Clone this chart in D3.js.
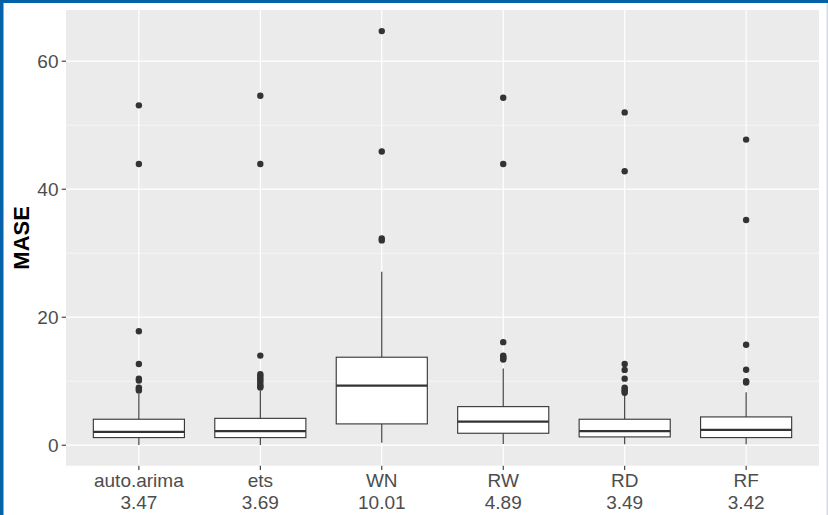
<!DOCTYPE html>
<html>
<head>
<meta charset="utf-8">
<script src="https://cdn.jsdelivr.net/npm/d3@7"></script>
<style>
  html, body { margin: 0; padding: 0; background: #fff; }
  svg { display: block; }
</style>
</head>
<body>
<svg id="chart" width="828" height="515"></svg>
<script>
// categories and the mean MASE shown under each name
var methods = ["auto.arima", "ets", "WN", "RW", "RD", "RF"];
var meanLabels = ["3.47", "3.69", "10.01", "4.89", "3.49", "3.42"];

// box summaries
var whiskerLow  = [0.05, 0.05, 0.4, 0.2, 0.15, 0.15];
var q1          = [1.19, 1.19, 3.33, 1.87, 1.3, 1.19];
var medians     = [2.1, 2.19, 9.3, 3.69, 2.19, 2.39];
var q3          = [4.06, 4.2, 13.75, 6.03, 4.06, 4.42];
var whiskerHigh = [8.0, 8.5, 27.1, 12.0, 7.9, 8.28];

var outliers = [
    [53.1, 43.95, 17.8, 12.7, 10.4, 10.1, 9.0, 8.8, 8.55],
    [54.6, 43.95, 14.0, 11.1, 10.8, 10.5, 10.2, 9.9, 9.5, 9.2, 9.0],
    [64.7, 45.9, 32.3, 32.0],
    [54.3, 43.95, 16.1, 14.0, 13.8, 13.6, 13.4],
    [52.0, 42.8, 12.7, 11.77, 10.4, 9.0, 8.7, 8.45, 8.2],
    [47.75, 35.2, 15.7, 11.8, 10.0, 9.8]
];

var yTicks = [0, 20, 40, 60];
var yMinor = [10, 30, 50];

var svg = d3.select("#chart");

// page frame
svg.append("rect").attr("x", 0).attr("y", 0).attr("width", 828).attr("height", 515).attr("fill", "#fff");
svg.append("rect").attr("x", 0).attr("y", 0).attr("width", 828).attr("height", 3).attr("fill", "#0562A9");
svg.append("rect").attr("x", 0).attr("y", 0).attr("width", 3.5).attr("height", 515).attr("fill", "#0562A9");
svg.append("rect").attr("x", 826.5).attr("y", 3).attr("width", 1.5).attr("height", 512).attr("fill", "#d5dbe2");

var panel = {left: 66, top: 10, right: 819, bottom: 465.7};

var x = d3.scalePoint()
    .domain(methods)
    .range([panel.left, panel.right])
    .padding(0.6);

var y = d3.scaleLinear()
    .domain([-3.2, 68.0])
    .range([panel.bottom, panel.top]);

var boxWidth = x.step() * 0.75;

var g = svg.append("g");

g.append("rect")
    .attr("x", panel.left)
    .attr("y", panel.top)
    .attr("width", panel.right - panel.left)
    .attr("height", panel.bottom - panel.top)
    .attr("fill", "#EBEBEB");

// grid
g.selectAll(".minor").data(yMinor).enter().append("line")
    .attr("x1", panel.left).attr("x2", panel.right)
    .attr("y1", function(d) { return y(d); }).attr("y2", function(d) { return y(d); })
    .attr("stroke", "#fff").attr("stroke-width", 0.6);

g.selectAll(".major").data(yTicks).enter().append("line")
    .attr("x1", panel.left).attr("x2", panel.right)
    .attr("y1", function(d) { return y(d); }).attr("y2", function(d) { return y(d); })
    .attr("stroke", "#fff").attr("stroke-width", 1.2);

g.selectAll(".vgrid").data(methods).enter().append("line")
    .attr("x1", function(d) { return x(d); }).attr("x2", function(d) { return x(d); })
    .attr("y1", panel.top).attr("y2", panel.bottom)
    .attr("stroke", "#fff").attr("stroke-width", 1.2);

// boxes
var boxes = g.selectAll(".box").data(methods).enter().append("g");

boxes.append("line")
    .attr("x1", function(d) { return x(d); }).attr("x2", function(d) { return x(d); })
    .attr("y1", function(d, i) { return y(q3[i]); })
    .attr("y2", function(d, i) { return y(whiskerHigh[i]); })
    .attr("stroke", "#333").attr("stroke-width", 1.1);

boxes.append("line")
    .attr("x1", function(d) { return x(d); }).attr("x2", function(d) { return x(d); })
    .attr("y1", function(d, i) { return y(q1[i]); })
    .attr("y2", function(d, i) { return y(whiskerLow[i]); })
    .attr("stroke", "#333").attr("stroke-width", 1.1);

boxes.append("rect")
    .attr("x", function(d) { return x(d) - boxWidth / 2; })
    .attr("width", boxWidth)
    .attr("y", function(d, i) { return y(q3[i]); })
    .attr("height", function(d, i) { return y(q1[i]) - y(q3[i]); })
    .attr("fill", "#fff").attr("stroke", "#333").attr("stroke-width", 1.1);

boxes.append("line")
    .attr("x1", function(d) { return x(d) - boxWidth / 2; })
    .attr("x2", function(d) { return x(d) + boxWidth / 2; })
    .attr("y1", function(d, i) { return y(medians[i]); })
    .attr("y2", function(d, i) { return y(medians[i]); })
    .attr("stroke", "#333").attr("stroke-width", 2.2);

boxes.each(function(d, i) {
    d3.select(this).selectAll("circle").data(outliers[i]).enter().append("circle")
        .attr("cx", x(d))
        .attr("cy", function(v) { return y(v); })
        .attr("r", 3.2)
        .attr("fill", "#333");
});

// y axis
var yAxis = svg.append("g");
yAxis.selectAll("line").data(yTicks).enter().append("line")
    .attr("x1", panel.left - 4.3).attr("x2", panel.left)
    .attr("y1", function(d) { return y(d); }).attr("y2", function(d) { return y(d); })
    .attr("stroke", "#333").attr("stroke-width", 1.1);
yAxis.selectAll("text").data(yTicks).enter().append("text")
    .attr("x", panel.left - 7.5)
    .attr("y", function(d) { return y(d) + 6.8; })
    .attr("text-anchor", "end")
    .attr("font-family", "Liberation Sans, Arial, sans-serif")
    .attr("font-size", 19)
    .attr("fill", "#4D4D4D")
    .text(function(d) { return d; });

// x axis
var xAxis = svg.append("g");
xAxis.selectAll("line").data(methods).enter().append("line")
    .attr("x1", function(d) { return x(d); }).attr("x2", function(d) { return x(d); })
    .attr("y1", panel.bottom).attr("y2", panel.bottom + 4.3)
    .attr("stroke", "#333").attr("stroke-width", 1.1);
var xLabels = xAxis.selectAll("text").data(methods).enter().append("text")
    .attr("text-anchor", "middle")
    .attr("font-family", "Liberation Sans, Arial, sans-serif")
    .attr("font-size", 19)
    .attr("fill", "#4D4D4D");
xLabels.append("tspan")
    .attr("x", function(d) { return x(d); })
    .attr("y", panel.bottom + 21.6)
    .text(function(d) { return d; });
xLabels.append("tspan")
    .attr("x", function(d) { return x(d); })
    .attr("y", panel.bottom + 43.4)
    .text(function(d, i) { return meanLabels[i]; });

// y title
svg.append("text")
    .attr("transform", "translate(29," + ((panel.top + panel.bottom) / 2) + ") rotate(-90)")
    .attr("text-anchor", "middle")
    .attr("font-family", "Liberation Sans, Arial, sans-serif")
    .attr("font-size", 22)
    .attr("font-weight", "bold")
    .attr("fill", "#000")
    .text("MASE");
</script>
</body>
</html>
